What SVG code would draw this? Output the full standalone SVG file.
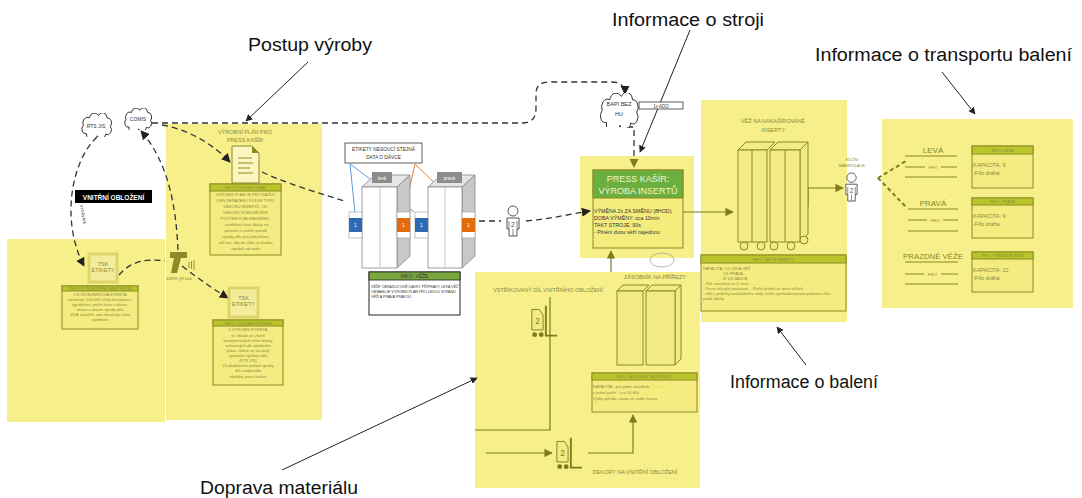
<svg xmlns="http://www.w3.org/2000/svg" width="1082" height="498" viewBox="0 0 1082 498">
<style>
  .panel{fill:#f6ef8a}
  .ol{stroke:#8a8820;fill:none}
  .ib{fill:#f4ec80;stroke:#8e8a22;stroke-width:1}
  .ih{fill:#b8c62c;stroke:#8e8a22;stroke-width:1}
  .big{font-family:"Liberation Sans",Arial,sans-serif;font-size:18px;fill:#111}
  .lbl{font-family:"Liberation Sans",Arial,sans-serif;font-size:5.5px;fill:#8c8a3a}
  .tiny{font-family:"Liberation Sans",Arial,sans-serif;font-size:4px;fill:#8c8a3a}
  .dk{font-family:"Liberation Sans",Arial,sans-serif;fill:#333}
  .dash{fill:none;stroke:#333;stroke-width:1.3;stroke-dasharray:6 4}
  .solid{fill:none;stroke:#222;stroke-width:1}
  .oline{fill:none;stroke:#7e7c1c;stroke-width:1.2}
  .twr{fill:#f3eb84;stroke:#8e8a22;stroke-width:1}
  .tsk{fill:#f3ec9a;stroke:#ddd46a;stroke-width:3}
</style>
<defs>
  <marker id="ab" viewBox="0 0 10 10" refX="9" refY="5" markerWidth="7" markerHeight="7" orient="auto-start-reverse">
    <path d="M0,0 L10,5 L0,10 z" fill="#222"/>
  </marker>
  <marker id="ao" viewBox="0 0 10 10" refX="9" refY="5" markerWidth="7" markerHeight="7" orient="auto-start-reverse">
    <path d="M0,0 L10,5 L0,10 z" fill="#7e7c1c"/>
  </marker>
  <symbol id="cloud" viewBox="0 0 100 60" preserveAspectRatio="none">
    <path d="M20,52 A12,12 0 0 1 10,31 A14,14 0 0 1 28,12 A16,16 0 0 1 56,6 A14,14 0 0 1 82,12 A13,13 0 0 1 92,34 A12,12 0 0 1 78,53 A14,14 0 0 1 52,57 A14,14 0 0 1 20,52 z" fill="#fff" stroke="#333" stroke-width="1" vector-effect="non-scaling-stroke"/>
  </symbol>
  <symbol id="person" viewBox="0 0 16 32">
    <circle cx="8" cy="6" r="5" fill="#fff" stroke="#555" stroke-width="1"/>
    <path d="M2,13 H14 V24 H12 V31 H4 V24 H2 Z" fill="#fff" stroke="#555" stroke-width="1"/>
    <path d="M4,16 V24 M12,16 V24 M8,24 V31" stroke="#555" stroke-width="0.7" fill="none"/>
    <text x="8" y="22" font-family="Liberation Sans,sans-serif" font-size="7" text-anchor="middle" fill="#555">2</text>
  </symbol>
  <symbol id="fork" viewBox="0 0 30 36">
    <path d="M2,4 H10 L14,10 V26 H2 Z" fill="#f3eb84" stroke="#7e7c1c" stroke-width="1"/>
    <path d="M17,0 V32 H29" stroke="#7e7c1c" stroke-width="2" fill="none"/>
    <circle cx="5" cy="31" r="2.6" fill="#7e7c1c"/>
    <circle cx="12" cy="31" r="2.6" fill="#7e7c1c"/>
    <text x="8" y="20" font-family="Liberation Sans,sans-serif" font-size="9" text-anchor="middle" fill="#7e7c1c">2</text>
  </symbol>
</defs>

<rect width="1082" height="498" fill="#fff"/>

<!-- yellow work areas -->
<g id="areas">
  <rect class="panel" x="7" y="239" width="158" height="183"/>
  <rect class="panel" x="166" y="124" width="156" height="296"/>
  <rect class="panel" x="475" y="272" width="225" height="216"/>
  <rect class="panel" x="580" y="156" width="114" height="102"/>
  <rect class="panel" x="701" y="100" width="146" height="222"/>
  <rect class="panel" x="882" y="119" width="191" height="189"/>
</g>

<!-- connectors -->
<g id="connectors">
  <path class="dash" d="M152,123 H522 C532,123 536,118 536,108 V94 C536,86 540,82 550,82 H612 C620,82 625,86 625,94" marker-end="url(#ab)"/>
  <path class="dash" d="M178,250 C176,205 168,162 141,131" marker-end="url(#ab)"/>
  <path class="dash" d="M162,125 C190,130 214,145 230,162" marker-end="url(#ab)"/>
  <path class="dash" d="M97,137 C72,160 60,220 84,266" marker-end="url(#ab)"/>
  <path class="dash" d="M119,275 C130,262 145,258 165,261"/>
  <path class="dash" d="M182,266 C200,280 215,290 228,298" marker-end="url(#ab)"/>
  <path class="dash" d="M262,172 C290,185 320,193 347,202"/>
  <path class="dash" d="M479,221 H501"/>
  <path class="dash" d="M526,221 C550,219 570,214 590,211" marker-end="url(#ab)"/>
  <path class="dash" d="M627,127 H634 V167" stroke="#333" marker-end="url(#ao)"/>
  <path d="M878,178 L906,161 M878,178 L907,208" fill="none" stroke="#7e7c1c" stroke-width="2" stroke-dasharray="4 3"/>

  <!-- callout arrows -->
  <path class="solid" d="M308,62 L246,121" marker-end="url(#ab)"/>
  <path class="solid" d="M690,30 L640,152" marker-end="url(#ab)"/>
  <path class="solid" d="M942,72 L975,114" marker-end="url(#ab)"/>
  <path class="solid" d="M806,365 L777,327" marker-end="url(#ab)"/>
  <path class="solid" d="M282,470 L477,378" marker-end="url(#ab)"/>

  <!-- material flow -->
  <path class="oline" d="M683,212 H733" marker-end="url(#ao)"/>
  <path class="oline" d="M808,207 V188 H843" marker-end="url(#ao)"/>
  <path class="oline" d="M611,272 V251" marker-end="url(#ao)"/>
  <path class="oline" d="M550,297 V430 H475"/>
  <path class="oline" d="M486,453 H552" marker-end="url(#ao)"/>
  <path class="oline" d="M588,453 H633 V415" marker-end="url(#ao)"/>

  <!-- label leaders -->
  <path d="M350,164 L355,213 M350,164 L414,212" stroke="#5b9bd5" stroke-width="1" fill="none"/>
  <path d="M415,164 L404,213 M415,164 L469,216" stroke="#ed7d31" stroke-width="1" fill="none"/>
</g>

<!-- callout texts -->
<g id="callouts">
  <text class="big" x="248" y="51" textLength="124" lengthAdjust="spacingAndGlyphs">Postup výroby</text>
  <text class="big" x="612" y="26" textLength="152" lengthAdjust="spacingAndGlyphs">Informace o stroji</text>
  <text class="big" x="815" y="61" textLength="257" lengthAdjust="spacingAndGlyphs">Informace o transportu balení</text>
  <text class="big" x="730" y="388" textLength="148" lengthAdjust="spacingAndGlyphs">Informace o balení</text>
  <text class="big" x="200" y="494" textLength="158" lengthAdjust="spacingAndGlyphs">Doprava materiálu</text>
</g>

<!-- systems -->
<g id="rts">
  <use href="#cloud" x="80" y="113" width="33" height="24"/>
  <text class="dk" x="96" y="128" font-size="5" text-anchor="middle">RTS JIS</text>
</g>
<g id="comis">
  <use href="#cloud" x="123" y="108" width="30" height="22"/>
  <text class="dk" x="138" y="121" font-size="5" text-anchor="middle">COMIS</text>
</g>
<g id="bapi">
  <use href="#cloud" x="598" y="93" width="42" height="34"/>
  <text class="dk" x="619" y="106" font-size="5.5" text-anchor="middle">BAPI BEZ</text>
  <text class="dk" x="619" y="116" font-size="5.5" text-anchor="middle">HU</text>
  <rect x="639" y="102" width="44" height="7" fill="#fff" stroke="#333" stroke-width="0.8"/>
  <text class="dk" x="661" y="107.5" font-size="4.5" text-anchor="middle">1x ADO</text>
</g>
<ellipse cx="662" cy="260" rx="12" ry="7" fill="none" stroke="#999" stroke-width="0.7"/>

<!-- inner trim: left area -->
<g id="vnitrni">
  <rect x="75" y="190" width="77" height="13" fill="#000"/>
  <text x="113.5" y="199.5" font-family="Liberation Sans,sans-serif" font-size="6.5" font-weight="bold" fill="#fff" text-anchor="middle">VNITŘNÍ OBLOŽENÍ</text>
  <text class="dk" font-size="3.8" transform="translate(80,205) rotate(80)">VYDÁVÁNÍ</text>
</g>
<g id="tsk1">
  <rect class="tsk" x="89" y="254" width="28" height="28"/>
  <text class="lbl" x="103" y="266" text-anchor="middle" font-size="4" fill="#c9c06a">TSK</text>
  <text class="lbl" x="103" y="272" text-anchor="middle" font-size="4" fill="#c9c06a">ETIKETY</text>
</g>
<g id="info-kont">
  <rect class="ib" x="62" y="286" width="76" height="43"/>
  <rect class="ih" x="62" y="286" width="76" height="5"/>
  <text class="tiny" x="100" y="289.8" text-anchor="middle" font-size="3.4">INFO: KONTEJNEROVÁ ETIKETA</text>
  <text class="tiny" x="100" y="296" text-anchor="middle">1.KONTEJNEROVÁ ETIKETA</text>
  <text class="tiny" x="100" y="301" text-anchor="middle">obsahuje číslo HU, číslo kontejneru,</text>
  <text class="tiny" x="100" y="306" text-anchor="middle">typ dekoru, počet kusů v dávce,</text>
  <text class="tiny" x="100" y="311" text-anchor="middle">stranu a datum výroby dílů</text>
  <text class="tiny" x="100" y="316" text-anchor="middle">VDA, prověřit, zda obsahuje nebo</text>
  <text class="tiny" x="100" y="321" text-anchor="middle">vyrobeno</text>
</g>
<g id="scanner">
  <path d="M170,252 H187 V258 H181 L177,273 H171 L174,258 H170 Z" fill="#8e8a2a"/>
  <path d="M189,262 v6 M191.5,261 v8 M194,260 v10" stroke="#8e8a2a" stroke-width="0.9" fill="none"/>
  <text class="tiny" x="166" y="280" font-size="4.5">SKEN  QR kód</text>
</g>

<!-- production plan area -->
<g id="plan">
  <text class="lbl" x="245" y="134" text-anchor="middle">VÝROBNÍ PLÁN PRO</text>
  <text class="lbl" x="245" y="142" text-anchor="middle">PRESS KAŠÍR</text>
  <path d="M232,146 H252 L259,153 V183 H232 Z" fill="#fbf6c0" stroke="#8e8a22" stroke-width="1"/>
  <path d="M252,146 V153 H259 Z" fill="#8e8a22"/>
  <path d="M238,158 H252 M238,163 H253 M238,168 H250 M238,173 H253" stroke="#8e8a22" stroke-width="1"/>
</g>
<g id="info-plan">
  <rect class="ib" x="210" y="184" width="71" height="71"/>
  <rect class="ih" x="210" y="184" width="71" height="7"/>
  <text class="tiny" x="245.5" y="189" text-anchor="middle">INFO: VÝROBNÍ PLÁN</text>
  <text class="tiny" x="245.5" y="196" text-anchor="middle">VÝROBNÍ PLÁN JE PRO KAŽDÝ</text>
  <text class="tiny" x="245.5" y="202" text-anchor="middle">DEN SEŘAZENÝ PODLE TYPU</text>
  <text class="tiny" x="245.5" y="208" text-anchor="middle">DEKORU INSERTŮ, OD</text>
  <text class="tiny" x="245.5" y="214" text-anchor="middle">DEKORU S NEJVĚTŠÍM</text>
  <text class="tiny" x="245.5" y="220" text-anchor="middle">POČTEM K NEJMENŠÍMU.</text>
  <text class="tiny" x="245.5" y="226" text-anchor="middle">- rozdělení čtení dávky na</text>
  <text class="tiny" x="245.5" y="232" text-anchor="middle">polovinu a vnitřní pořadí</text>
  <text class="tiny" x="245.5" y="238" text-anchor="middle">výroby dílů pro jednotlivou</text>
  <text class="tiny" x="245.5" y="244" text-anchor="middle">věž tzn. díly do věže se budou</text>
  <text class="tiny" x="245.5" y="250" text-anchor="middle">vyrábět od zadu</text>
</g>
<g id="tsk2">
  <rect class="tsk" x="229" y="288" width="29" height="29"/>
  <text class="lbl" x="243.5" y="300" text-anchor="middle" font-size="4" fill="#c9c06a">TSK</text>
  <text class="lbl" x="243.5" y="306" text-anchor="middle" font-size="4" fill="#c9c06a">ETIKETY</text>
</g>
<g id="info-vyr">
  <rect class="ib" x="213" y="320" width="70" height="65"/>
  <rect class="ih" x="213" y="320" width="70" height="6"/>
  <text class="tiny" x="248" y="324.5" text-anchor="middle">INFO: VÝROBNÍ ETIKETA</text>
  <text class="tiny" x="248" y="331" text-anchor="middle">2.VÝROBNÍ ETIKETA</text>
  <text class="tiny" x="248" y="337" text-anchor="middle">se skládá ze všech</text>
  <text class="tiny" x="248" y="342" text-anchor="middle">kontejnerových etiket dávky</text>
  <text class="tiny" x="248" y="347" text-anchor="middle">seřazených dle výrobního</text>
  <text class="tiny" x="248" y="352" text-anchor="middle">plánu, tiskne se na stroji</text>
  <text class="tiny" x="248" y="357" text-anchor="middle">vydaném výrobou dílů</text>
  <text class="tiny" x="248" y="362" text-anchor="middle">(RTS JIS)</text>
  <text class="tiny" x="248" y="367" text-anchor="middle">Za dodržování pořadí výroby</text>
  <text class="tiny" x="248" y="372" text-anchor="middle">dílů zodpovídá</text>
  <text class="tiny" x="248" y="378" text-anchor="middle">obsluha press kašíru</text>
</g>

<!-- transport towers -->
<g id="etikety-note">
  <rect x="345" y="143" width="77" height="20" fill="#fff" stroke="#333" stroke-width="0.8"/>
  <text class="dk" x="383.5" y="151" font-size="4.8" text-anchor="middle">ETIKETY NESOUCÍ STEJNÁ</text>
  <text class="dk" x="383.5" y="159" font-size="4.8" text-anchor="middle">DATA O DÁVCE</text>
</g>
<g id="vez-leva">
  <path d="M362,187 L375,175 H410 L397,187 Z" fill="#e6e6e6" stroke="#888" stroke-width="0.8"/>
  <path d="M397,187 L410,175 V256 L397,268 Z" fill="#c8c8c8" stroke="#888" stroke-width="0.8"/>
  <rect x="362" y="187" width="35" height="81" fill="#fff" stroke="#888" stroke-width="0.8"/>
  <path d="M380,187 V268" stroke="#b8c4d4" stroke-width="1"/>
  <rect x="372" y="172" width="20" height="11" fill="#8c8c8c"/>
  <text x="382" y="179.5" font-family="Liberation Sans,sans-serif" font-size="4.5" fill="#fff" text-anchor="middle">levá</text>
  <rect x="349" y="212" width="13" height="26" fill="#fff" stroke="#999" stroke-width="0.6"/>
  <rect x="349" y="218" width="13" height="14" fill="#2e6bb5"/>
  <text x="355.5" y="227" font-family="Liberation Sans,sans-serif" font-size="5" fill="#fff" text-anchor="middle">1</text>
  <rect x="397" y="212" width="13" height="26" fill="#fff" stroke="#999" stroke-width="0.6"/>
  <rect x="397" y="218" width="13" height="14" fill="#e46c0a"/>
  <text x="403.5" y="227" font-family="Liberation Sans,sans-serif" font-size="5" fill="#fff" text-anchor="middle">1</text>
</g>
<g id="vez-prava">
  <path d="M428,187 L441,175 H475 L462,187 Z" fill="#e6e6e6" stroke="#888" stroke-width="0.8"/>
  <path d="M462,187 L475,175 V256 L462,268 Z" fill="#c8c8c8" stroke="#888" stroke-width="0.8"/>
  <rect x="428" y="187" width="34" height="81" fill="#fff" stroke="#888" stroke-width="0.8"/>
  <path d="M445,187 V268" stroke="#b8c4d4" stroke-width="1"/>
  <rect x="437" y="172" width="25" height="11" fill="#8c8c8c"/>
  <text x="449.5" y="179.5" font-family="Liberation Sans,sans-serif" font-size="4.5" fill="#fff" text-anchor="middle">pravá</text>
  <rect x="415" y="212" width="13" height="26" fill="#fff" stroke="#999" stroke-width="0.6"/>
  <rect x="415" y="218" width="13" height="14" fill="#2e6bb5"/>
  <text x="421.5" y="227" font-family="Liberation Sans,sans-serif" font-size="5" fill="#fff" text-anchor="middle">1</text>
  <rect x="462" y="212" width="13" height="26" fill="#fff" stroke="#999" stroke-width="0.6"/>
  <rect x="462" y="218" width="13" height="14" fill="#e46c0a"/>
  <text x="468.5" y="227" font-family="Liberation Sans,sans-serif" font-size="5" fill="#fff" text-anchor="middle">1</text>
</g>
<g id="info-veze">
  <rect x="369" y="272" width="91" height="43" fill="#fff" stroke="#222" stroke-width="1"/>
  <rect x="369" y="272" width="91" height="8" fill="#7aa83f" stroke="#222" stroke-width="0.8"/>
  <text class="dk" x="414.5" y="278" font-size="5" text-anchor="middle">INFO: VĚŽE</text>
  <text class="dk" x="371" y="288" font-size="3.6">VĚŽE OBRAZUJÍ DVĚ DÁVKY PŘÍPRAVY, LEVÁ VĚŽ</text>
  <text class="dk" x="371" y="293" font-size="3.6">OBSAHUJE VÝROBNÍ PLÁN PRO LEVOU STRANU</text>
  <text class="dk" x="371" y="298" font-size="3.6">VĚŽÍ A PRAVÁ PRAVOU.</text>
</g>
<g id="operator">
  <use href="#person" x="505" y="205" width="16" height="32"/>
</g>

<!-- press -->
<g id="press">
  <rect x="593" y="170" width="90" height="78" fill="#f4ec7c" stroke="#8e8a22" stroke-width="1"/>
  <rect x="593" y="170" width="90" height="28" fill="#6aaf3f" stroke="#8e8a22" stroke-width="1"/>
  <text x="638" y="182" font-family="Liberation Sans,sans-serif" font-size="9" fill="#f4f4d0" text-anchor="middle">PRESS KAŠÍR:</text>
  <text x="638" y="194" font-family="Liberation Sans,sans-serif" font-size="9" fill="#f4f4d0" text-anchor="middle">VÝROBA INSERTŮ</text>
  <text class="dk" x="594" y="213" font-size="5.3" fill="#5a5820">VÝMĚNA 2x ZA SMĚNU (8HOD)</text>
  <text class="dk" x="594" y="220" font-size="5.3" fill="#5a5820">DOBA VÝMĚNY: cca 10min</text>
  <text class="dk" x="594" y="227" font-size="5.3" fill="#5a5820">TAKT STROJE: 90s</text>
  <text class="dk" x="594" y="234" font-size="5.3" fill="#5a5820">- Plnění dvou věží najednou</text>
</g>

<!-- tower store for pressed inserts -->
<g id="vez-inserty">
  <text class="lbl" x="773" y="123" text-anchor="middle">VĚŽ NA NAKAŠÍROVANÉ</text>
  <text class="lbl" x="773" y="132" text-anchor="middle">INSERTY</text>
  <path class="twr" d="M738,150 L746,142 H775 L767,150 Z"/>
  <rect class="twr" x="738" y="150" width="29" height="92"/>
  <path d="M752,150 V242" class="ol"/>
  <path class="twr" d="M770,150 L778,142 H808 L800,150 Z"/>
  <path class="twr" d="M800,150 L808,142 V234 L800,242 Z"/>
  <rect class="twr" x="770" y="150" width="30" height="92"/>
  <path d="M785,150 V242" class="ol"/>
  <circle cx="744" cy="246" r="4" class="twr"/>
  <circle cx="761" cy="246" r="4" class="twr"/>
  <circle cx="774" cy="246" r="4" class="twr"/>
  <circle cx="791" cy="246" r="4" class="twr"/>
  <circle cx="804" cy="240" r="4" class="twr"/>
</g>
<g id="info-vez-inserty">
  <rect class="ib" x="701" y="255" width="145" height="56"/>
  <rect class="ih" x="701" y="255" width="145" height="8"/>
  <text class="tiny" x="773.5" y="260.5" text-anchor="middle">INFO: VĚŽ S INSERTY</text>
  <text class="tiny" x="703" y="270">KAPACITA:     1/1 LEVÁ VĚŽ</text>
  <text class="tiny" x="723" y="275">1/1 PRAVÁ</text>
  <text class="tiny" x="723" y="280">Ø 1/4 ZÁSOB</text>
  <text class="tiny" x="703" y="285">- Věž uzavřená ze 4 stran</text>
  <text class="tiny" x="703" y="290">- Press věž plní postupně, - Ruční plnění ve dvou věžích</text>
  <text class="tiny" x="703" y="295">- věž z podlahy naskladněna vždy, nelze vyskladnit pouze polovinu věže</text>
  <text class="tiny" x="703" y="300">podle dávky</text>
</g>
<g id="manipulace">
  <text class="tiny" x="852" y="161" text-anchor="middle" font-size="4.2">RUČNÍ</text>
  <text class="tiny" x="852" y="167" text-anchor="middle" font-size="4.2">MANIPULACE</text>
  <use href="#person" x="844" y="172" width="15" height="30"/>
</g>

<!-- transport lanes -->
<g id="lane-leva">
  <text x="933" y="153" font-family="Liberation Sans,sans-serif" font-size="8" fill="#8a8820" text-anchor="middle">LEVÁ</text>
  <path d="M905,156 H957 M905,167 H925 M941,167 H957 M905,177 H957" class="ol" stroke-width="1"/>
  <text class="tiny" x="933" y="168.5" text-anchor="middle" font-size="4.5">FIFO</text>
</g>
<g id="lane-prava">
  <text x="933" y="206" font-family="Liberation Sans,sans-serif" font-size="8" fill="#8a8820" text-anchor="middle">PRAVÁ</text>
  <path d="M908,209 H958 M908,220 H927 M943,220 H958 M908,231 H958" class="ol" stroke-width="1"/>
  <text class="tiny" x="935" y="221.5" text-anchor="middle" font-size="4.5">FIFO</text>
</g>
<g id="lane-prazdne">
  <text x="933" y="259" font-family="Liberation Sans,sans-serif" font-size="7.8" fill="#8a8820" text-anchor="middle">PRAZDNÉ VĚŽE</text>
  <path d="M905,262 H958 M905,274 H924 M941,274 H958 M905,284 H958" class="ol" stroke-width="1"/>
  <text class="tiny" x="932.5" y="275.5" text-anchor="middle" font-size="4.5">FIFO</text>
</g>
<g id="info-leva">
  <rect class="ib" x="972" y="146" width="61" height="42"/>
  <rect class="ih" x="972" y="146" width="61" height="8"/>
  <text class="tiny" x="1002.5" y="151.5" text-anchor="middle">INFO: LEVÁ</text>
  <text class="lbl" x="973" y="167">KAPACITA:  9</text>
  <text class="lbl" x="973" y="175">-Fifo dráha</text>
</g>
<g id="info-prava">
  <rect class="ib" x="972" y="198" width="61" height="40"/>
  <rect class="ih" x="972" y="198" width="61" height="7"/>
  <text class="tiny" x="1002.5" y="203" text-anchor="middle">INFO: PRAVÁ</text>
  <text class="lbl" x="973" y="218">KAPACITA:  9</text>
  <text class="lbl" x="973" y="226">-Fifo dráha</text>
</g>
<g id="info-prazdne">
  <rect class="ib" x="972" y="252" width="61" height="40"/>
  <rect class="ih" x="972" y="252" width="61" height="7"/>
  <text class="tiny" x="1002.5" y="257" text-anchor="middle">INFO: PRÁZDNÉ VĚŽE</text>
  <text class="lbl" x="973" y="272">KAPACITA:  12</text>
  <text class="lbl" x="973" y="280">-Fifo dráha</text>
</g>

<!-- injection-moulded parts and cut blanks -->
<g id="vstrikovany">
  <text class="lbl" x="548" y="292" text-anchor="middle" font-size="5">VSTŘIKOVANÝ DÍL VNITŘNÍHO OBLOŽENÍ</text>
  <use href="#fork" x="530" y="305" width="28" height="35"/>
</g>
<g id="dekory">
  <use href="#fork" x="555" y="437" width="28" height="35"/>
  <text class="lbl" x="635" y="474" text-anchor="middle" font-size="5">DEKORY NA VNITŘNÍ OBLOŽENÍ</text>
</g>
<g id="zasobnik">
  <text class="lbl" x="655" y="279" text-anchor="middle" font-size="5">ZÁSOBNÍK NA PŘÍŘEZY</text>
  <path class="twr" d="M617,291 L623,285 H649 L643,291 Z"/>
  <rect class="twr" x="617" y="291" width="26" height="74"/>
  <path class="twr" d="M646,291 L652,285 H681 L675,291 Z"/>
  <path class="twr" d="M675,291 L681,285 V359 L675,365 Z"/>
  <rect class="twr" x="646" y="291" width="29" height="74"/>
</g>
<g id="info-zasobnik">
  <rect class="ib" x="592" y="373" width="105" height="39"/>
  <rect class="ih" x="592" y="373" width="105" height="7"/>
  <text class="tiny" x="644.5" y="378" text-anchor="middle">INFO: ZÁSOBNÍK NA PŘÍŘEZY</text>
  <text class="tiny" x="593" y="388">KAPACITA - pro jeden zásobník: <tspan fill="#f0e030">XX kusů</tspan></text>
  <text class="tiny" x="593" y="394">v jedné patře - cca 50 dílů</text>
  <text class="tiny" x="593" y="400">Výdej zpředu, závoz ze zadní strany</text>
</g>
</svg>
